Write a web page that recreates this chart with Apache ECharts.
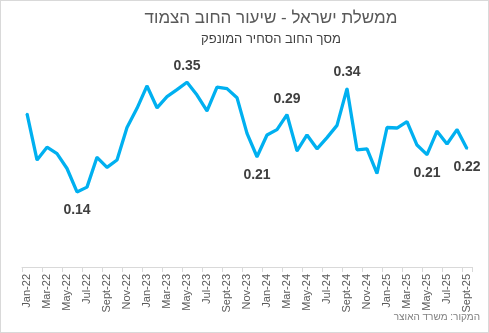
<!DOCTYPE html>
<html><head><meta charset="utf-8">
<script src="https://cdn.jsdelivr.net/npm/echarts@6/dist/echarts.min.js"></script>
<style>html,body{margin:0;padding:0;background:#fff}#c{width:487px;height:331px;border:1px solid #d9d9d9}</style>
</head><body><div id="c"></div>
<script>
const categories = ["Jan-22","Feb-22","Mar-22","Apr-22","May-22","Jun-22","Jul-22","Aug-22","Sept-22","Oct-22","Nov-22","Dec-22",
"Jan-23","Feb-23","Mar-23","Apr-23","May-23","Jun-23","Jul-23","Aug-23","Sept-23","Oct-23","Nov-23","Dec-23",
"Jan-24","Feb-24","Mar-24","Apr-24","May-24","Jun-24","Jul-24","Aug-24","Sept-24","Oct-24","Nov-24","Dec-24",
"Jan-25","Feb-25","Mar-25","Apr-25","May-25","Jun-25","Jul-25","Aug-25","Sept-25"];
const values = [0.288,0.201,0.225,0.213,0.185,0.141,0.150,0.206,0.187,0.201,0.262,0.298,
0.340,0.299,0.320,0.333,0.347,0.323,0.293,0.338,0.335,0.318,0.251,0.207,
0.248,0.258,0.286,0.218,0.248,0.222,0.243,0.266,0.335,0.220,0.222,0.176,
0.262,0.261,0.273,0.229,0.211,0.255,0.231,0.258,0.222];
const labelAbove = [16,26,32];
const labelBelow = [5,23,40,44];
const titleText = "ממשלת ישראל - שיעור החוב הצמוד";
const subtitleText = "מסך החוב הסחיר המונפק";
const sourceText = "המקור: משרד האוצר";

const font = '"Liberation Sans","DejaVu Sans",sans-serif';
const lbl = {show:true,fontFamily:font,fontSize:14,fontWeight:'bold',color:'#404040',formatter:p=>Number(p.value).toFixed(2)};
const data = values.map((v,i)=>{
  if (labelAbove.includes(i)) return {value:v,label:Object.assign({},lbl,{position:'top',distance:8})};
  if (labelBelow.includes(i)) return {value:v,label:Object.assign({},lbl,{position:'bottom',distance:10})};
  return {value:v};
});
const chart = echarts.init(document.getElementById('c'));
chart.setOption({
  animation:false,
  title:[
    {text:titleText,left:265,top:4,textAlign:'center',textStyle:{fontFamily:font,fontSize:17,fontWeight:'normal',color:'#595959'}},
    {text:subtitleText,left:265,top:27,textAlign:'center',textStyle:{fontFamily:font,fontSize:13,fontWeight:'normal',color:'#404040'}}
  ],
  graphic:[{type:'text',right:8,top:311,style:{text:sourceText,font:'10px '+font,fill:'#7f7f7f'}}],
  grid:{left:21,right:16,top:53,bottom:65},
  xAxis:{type:'category',data:categories,boundaryGap:true,
    axisLine:{lineStyle:{color:'#d9d9d9'}},
    axisTick:{show:true,length:5,lineStyle:{color:'#d9d9d9'}},
    axisLabel:{interval:1,rotate:90,fontFamily:font,fontSize:11,color:'#595959',margin:7}},
  yAxis:{type:'value',min:0,max:0.4,show:false,splitLine:{show:false}},
  series:[{type:'line',data:data,symbol:'circle',symbolSize:2,showSymbol:true,showAllSymbol:true,
    lineStyle:{color:'#00b0f0',width:3.3},
    itemStyle:{color:'#00b0f0'},
    label:{show:false}}]
});
</script></body></html>
